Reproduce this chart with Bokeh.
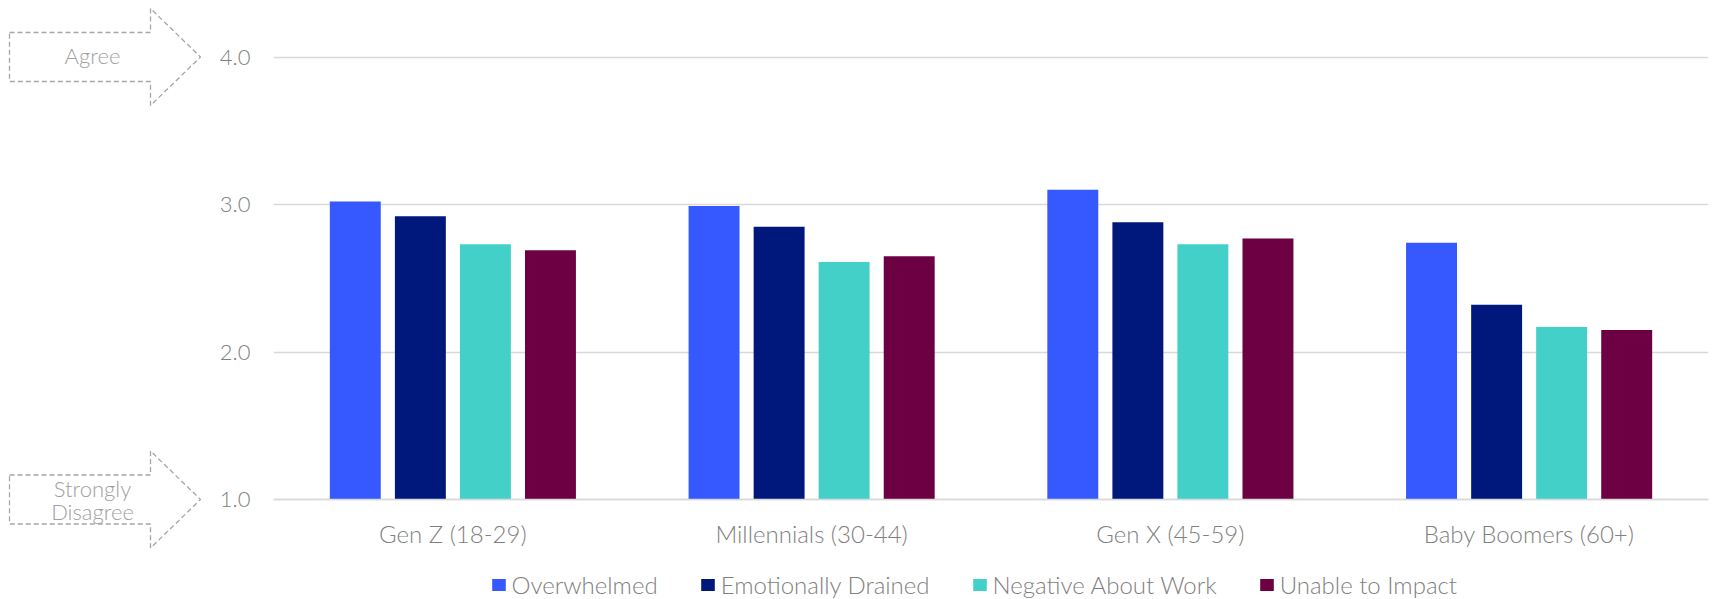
from bokeh.plotting import figure
from bokeh.models import (ColumnDataSource, FactorRange, Range1d, FixedTicker,
                          PrintfTickFormatter, Legend, LegendItem)
from bokeh.transform import dodge
from bokeh.layouts import row
from bokeh.core.properties import value
from bokeh.embed import file_html
from bokeh.resources import INLINE

# ---- data ----
generations = ["Gen Z (18-29)", "Millennials (30-44)", "Gen X (45-59)", "Baby Boomers (60+)"]
series_names = ["Overwhelmed", "Emotionally Drained", "Negative About Work", "Unable to Impact"]
overwhelmed = [3.02, 2.99, 3.10, 2.74]
emotionally_drained = [2.92, 2.85, 2.88, 2.32]
negative_about_work = [2.73, 2.61, 2.73, 2.17]
unable_to_impact = [2.69, 2.65, 2.77, 2.15]
y_ticks = [1.0, 2.0, 3.0, 4.0]
scale_labels = ["Agree", "Strongly", "Disagree"]

colors = ["#3558FF", "#00187B", "#43D0C9", "#6D0043"]
FONT = "Lato Light"
TXT = "#7F7F7F"
GRID = "#D9D9D9"

src = ColumnDataSource(dict(gen=generations, s0=overwhelmed, s1=emotionally_drained,
                            s2=negative_about_work, s3=unable_to_impact))

# vertical scale: frame spans the whole 599 px height
H = 599
PPU = 147.5                      # pixels per scale unit
Y_TOP = 4.0 + 56.5 / PPU         # value at the top edge
Y_BOT = 1.0 - (H - 499.0) / PPU  # value at the bottom edge
y_range = Range1d(Y_BOT, Y_TOP)

p = figure(x_range=FactorRange(factors=generations, range_padding=0), y_range=y_range,
           frame_width=1435, frame_height=H, min_border_left=63, min_border_right=4,
           min_border_top=0, min_border_bottom=0, toolbar_location=None,
           output_backend="svg", outline_line_color=None, background_fill_color="white")

offsets = [-0.272, -0.0906, 0.0906, 0.272]
renderers = []
for i, key in enumerate(["s0", "s1", "s2", "s3"]):
    r = p.vbar(x=dodge("gen", offsets[i], range=p.x_range), top=key, bottom=1.0, width=0.142,
               source=src, fill_color=colors[i], line_color=None)
    renderers.append(r)

p.yaxis.ticker = FixedTicker(ticks=y_ticks)
p.yaxis.formatter = PrintfTickFormatter(format="%.1f")
p.yaxis.axis_line_color = None
p.yaxis.major_tick_line_color = None
p.yaxis.minor_tick_line_color = None
p.yaxis.major_label_text_font = FONT
p.yaxis.major_label_text_font_size = "22px"
p.yaxis.major_label_text_color = TXT
p.yaxis.major_label_standoff = 17

p.xaxis.fixed_location = 1.0
p.xaxis.axis_line_color = GRID
p.xaxis.axis_line_width = 1.5
p.xaxis.major_tick_line_color = None
p.xaxis.minor_tick_line_color = None
p.xaxis.major_label_text_font = FONT
p.xaxis.major_label_text_font_size = "24px"
p.xaxis.major_label_text_color = TXT
p.xaxis.major_label_standoff = 13

p.xgrid.grid_line_color = None
p.ygrid.ticker = FixedTicker(ticks=y_ticks)
p.ygrid.grid_line_color = GRID
p.ygrid.grid_line_width = 1.5

legend = Legend(items=[LegendItem(label=series_names[i], renderers=[renderers[i]]) for i in range(4)],
                orientation="horizontal", location=(216.6, 0), padding=0, margin=0,
                spacing=41, label_standoff=5, glyph_width=17, glyph_height=15,
                label_text_font=FONT, label_text_font_size="24px", label_text_color=TXT,
                border_line_color=None, background_fill_alpha=0)
p.add_layout(legend, "center")

# ---- left panel with the scale arrows (same vertical scale as the chart) ----
left = figure(x_range=Range1d(0, 210), y_range=y_range, frame_width=210, frame_height=H,
              min_border_left=0, min_border_right=0, min_border_top=0, min_border_bottom=0,
              toolbar_location=None, output_backend="svg", outline_line_color=None)
left.axis.visible = False
left.grid.visible = False

rh = 24.5 / PPU
hh = 48.5 / PPU
xs_shape = [9, 150, 150, 200, 150, 150, 9]
for yc in [4.0, 1.0]:
    ys_shape = [yc + rh, yc + rh, yc + hh, yc, yc - hh, yc - rh, yc - rh]
    left.patch(xs_shape, ys_shape, fill_color=None, line_color="#A6A6A6", line_width=1.3,
               line_dash="5 3")

left.text(x=[92], y=[4.0], text=[scale_labels[0]], y_offset=[-2], text_font=value(FONT),
          text_font_size="22px", text_color="#A0A0A0", text_align="center",
          text_baseline="middle")
left.text(x=[92, 92], y=[1.0, 1.0], text=scale_labels[1:], y_offset=[-11, 12],
          text_font=value(FONT), text_font_size="22px",
          text_color="#A0A0A0", text_align="center", text_baseline="middle")

layout = row(left, p, spacing=0)
open("out.html", "w").write(file_html(layout, INLINE))
